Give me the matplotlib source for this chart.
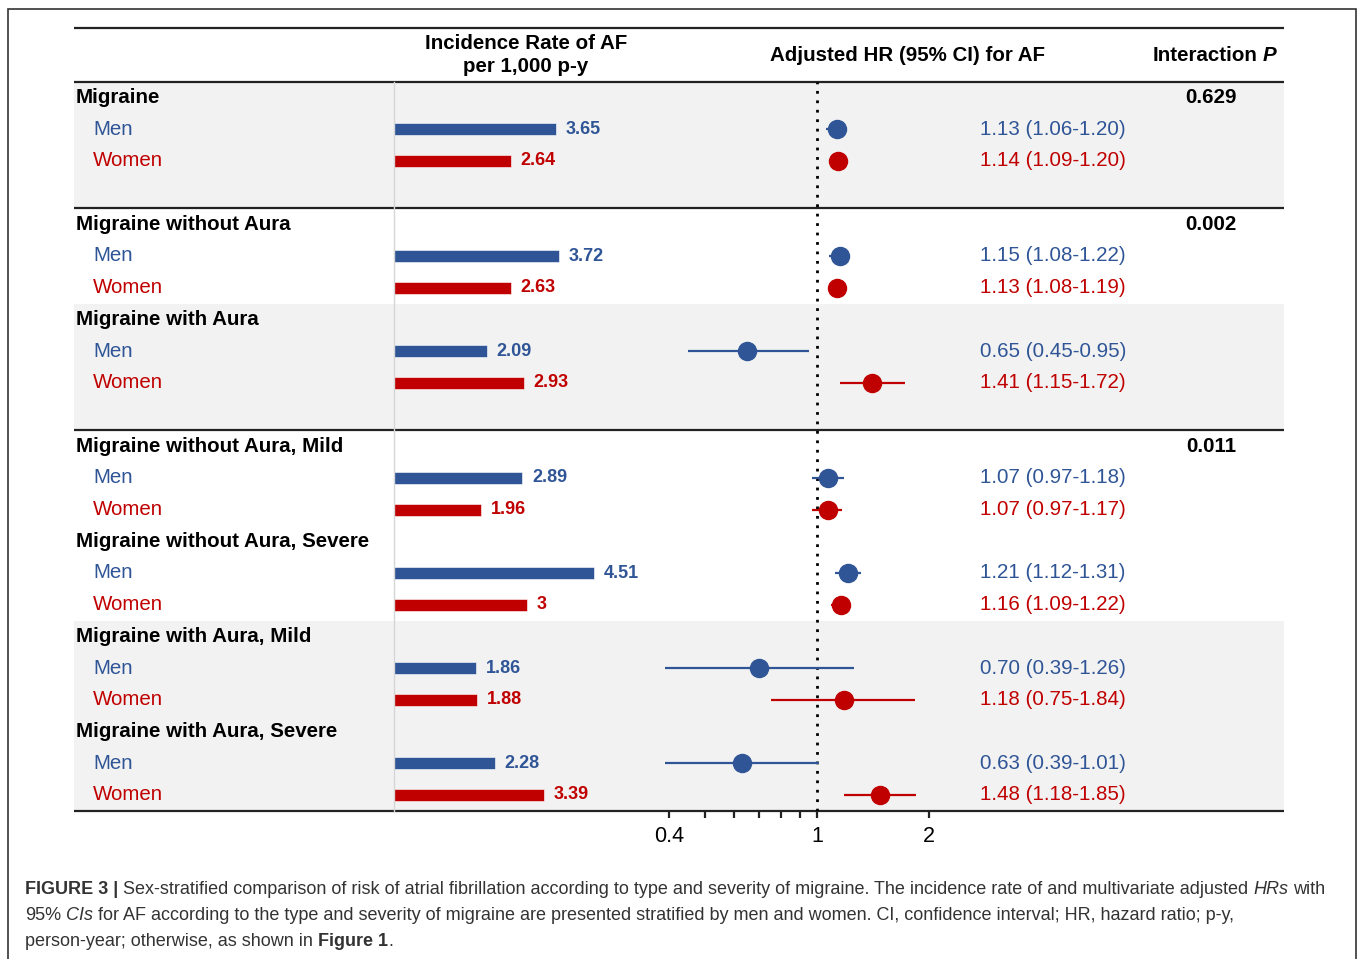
import numpy as np
import matplotlib.pyplot as plt
from matplotlib.patches import Rectangle
from matplotlib.ticker import FixedLocator, FixedFormatter, NullFormatter

plt.rcParams['font.family'] = ['Liberation Sans', 'DejaVu Sans']

W, H = 1358, 959
BLUE = '#2f5597'
RED = '#c00000'
DARK = '#222222'

# data
groups = ["Migraine", "Migraine without Aura", "Migraine with Aura",
          "Migraine without Aura, Mild", "Migraine without Aura, Severe",
          "Migraine with Aura, Mild", "Migraine with Aura, Severe"]
men_rate = [3.65, 3.72, 2.09, 2.89, 4.51, 1.86, 2.28]
women_rate = [2.64, 2.63, 2.93, 1.96, 3.00, 1.88, 3.39]
men_hr = [1.13, 1.15, 0.65, 1.07, 1.21, 0.70, 0.63]
men_lo = [1.06, 1.08, 0.45, 0.97, 1.12, 0.39, 0.39]
men_hi = [1.20, 1.22, 0.95, 1.18, 1.31, 1.26, 1.01]
women_hr = [1.14, 1.13, 1.41, 1.07, 1.16, 1.18, 1.48]
women_lo = [1.09, 1.08, 1.15, 0.97, 1.09, 0.75, 1.18]
women_hi = [1.20, 1.19, 1.72, 1.17, 1.22, 1.84, 1.85]
p_values = ["0.629", "0.002", "", "0.011", "", "", ""]
hr_ticks = [0.4, 1, 2]
hr_minor = [0.5, 0.6, 0.7, 0.8, 0.9]

# layout: row index of each group heading, shaded blocks, separators
head_rows = [0, 4, 7, 11, 14, 17, 20]
shaded = [(-0.5, 3.5), (6.5, 10.5), (16.5, 22.5)]
separators = [3.5, 10.5]
ROW0, PITCH = 97.5, 31.7   # pixel y of row 0, pixel per row

men_rows = [r + 1 for r in head_rows]
women_rows = [r + 2 for r in head_rows]

fig = plt.figure(figsize=(W / 100, H / 100), dpi=100)


def rows_px(r):
    return ROW0 + PITCH * r


def px_axes(x0, y0, x1, y1, **kw):
    return fig.add_axes([x0 / W, 1 - y1 / H, (x1 - x0) / W, (y1 - y0) / H], **kw)


# table axes: x in pixels, y in rows, covers whole figure
tab = px_axes(0, 0, W, H)
tab.set_xlim(0, W)
tab.set_ylim((H - ROW0) / PITCH, -ROW0 / PITCH)
tab.axis('off')

for a, b in shaded:
    tab.fill_between([74, 1284], a, b, color='#f2f2f2', lw=0, zorder=0)

top_rule = (28 - ROW0) / PITCH
for y in [top_rule, -0.5] + separators + [22.5]:
    tab.plot([74, 1284], [y, y], color=DARK, lw=1.6, solid_capstyle='butt', zorder=2)

# header
hfs = 14.8
tab.text(526, (44 - ROW0) / PITCH, "Incidence Rate of AF", fontsize=hfs, fontweight='bold',
         ha='center', va='center')
tab.text(526, (67 - ROW0) / PITCH, "per 1,000 p-y", fontsize=hfs, fontweight='bold',
         ha='center', va='center')
tab.text(907, (56 - ROW0) / PITCH, "Adjusted HR (95% CI) for AF", fontsize=hfs,
         fontweight='bold', ha='center', va='center')
tab.text(1276, (56 - ROW0) / PITCH, "P", fontsize=hfs, fontweight='bold', style='italic',
         ha='right', va='center')
tab.text(1258, (56 - ROW0) / PITCH, "Interaction", fontsize=hfs, fontweight='bold',
         ha='right', va='center')

# row labels
fs = 14.8
for i, g in enumerate(groups):
    tab.text(76, head_rows[i], g, fontsize=fs, fontweight='bold', ha='left', va='center')
    tab.text(93, men_rows[i], "Men", fontsize=fs, color=BLUE, ha='left', va='center')
    tab.text(93, women_rows[i], "Women", fontsize=fs, color=RED, ha='left', va='center')
    tab.text(980, men_rows[i], f"{men_hr[i]:.2f} ({men_lo[i]:.2f}-{men_hi[i]:.2f})",
             fontsize=fs, color=BLUE, ha='left', va='center')
    tab.text(980, women_rows[i], f"{women_hr[i]:.2f} ({women_lo[i]:.2f}-{women_hi[i]:.2f})",
             fontsize=fs, color=RED, ha='left', va='center')
    if p_values[i]:
        tab.text(1211, head_rows[i], p_values[i], fontsize=fs, fontweight='bold',
                 ha='center', va='center')

# bars
y_top, y_bot = rows_px(-0.5), rows_px(22.5)
bx = px_axes(394, y_top, 660, y_bot)
bx.patch.set_alpha(0)
bx.set_xlim(0, 266 / 44.35)
bx.set_ylim(22.5, -0.5)
for s in ['top', 'right', 'bottom']:
    bx.spines[s].set_visible(False)
bx.spines['left'].set_color('#d6d6d6')
bx.spines['left'].set_linewidth(1)
bx.set_xticks([])
bx.set_yticks([])
bx.barh(men_rows, men_rate, height=0.38, color=BLUE, edgecolor='white', linewidth=0.4)
bx.barh(women_rows, women_rate, height=0.38, color=RED, edgecolor='white', linewidth=0.4)
for rows, vals, c in [(men_rows, men_rate, BLUE), (women_rows, women_rate, RED)]:
    for r, v in zip(rows, vals):
        bx.annotate(f"{v:g}", (v, r), xytext=(7, 0), textcoords='offset points',
                    fontsize=13, fontweight='bold', color=c, ha='left', va='center')

# forest plot, log scale
fx = px_axes(647.4, y_top, 965, y_bot)
fx.patch.set_alpha(0)
fx.set_xscale('log')
fx.set_xlim(0.35, 2.5)
fx.set_ylim(22.5, -0.5)
for s in fx.spines.values():
    s.set_visible(False)
fx.set_yticks([])
fx.xaxis.set_major_locator(FixedLocator(hr_ticks))
fx.xaxis.set_major_formatter(FixedFormatter([f"{t:g}" for t in hr_ticks]))
fx.xaxis.set_minor_locator(FixedLocator(hr_minor))
fx.xaxis.set_minor_formatter(NullFormatter())
fx.tick_params(axis='x', which='both', direction='out', length=5, width=1.6, color=DARK,
               labelsize=15.5, pad=6)
fx.axvline(1, color='black', lw=2, linestyle=(0, (1, 2.4)), zorder=1)
fx.hlines(men_rows, men_lo, men_hi, color=BLUE, lw=1.6, zorder=2)
fx.hlines(women_rows, women_lo, women_hi, color=RED, lw=1.6, zorder=2)
fx.plot(men_hr, men_rows, 'o', color=BLUE, ms=13, zorder=3)
fx.plot(women_hr, women_rows, 'o', color=RED, ms=13, zorder=3)

# caption
renderer = fig.canvas.get_renderer()
cap_fs = 13
cap_col = '#333333'


def text_w(s, **kw):
    t = fig.text(0, 0, s, fontsize=cap_fs, **kw)
    w = t.get_window_extent(renderer=renderer).width
    t.remove()
    return w


space_w = text_w("x x") - text_w("xx")


def draw_runs(x, y, runs):
    for s, weight, style in runs:
        if s.startswith(" "):
            x += space_w
        s2 = s.strip()
        t = fig.text(x / W, 1 - y / H, s2, fontsize=cap_fs, fontweight=weight,
                     style=style, color=cap_col, ha='left', va='center')
        x += t.get_window_extent(renderer=renderer).width
        if s.endswith(" "):
            x += space_w


caption = [
    [("FIGURE 3 | ", 'bold', 'normal'),
     ("Sex-stratified comparison of risk of atrial fibrillation according to type and severity "
      "of migraine. The incidence rate of and multivariate adjusted ", 'normal', 'normal'),
     ("HRs", 'normal', 'italic'), (" with", 'normal', 'normal')],
    [("95% ", 'normal', 'normal'), ("CIs", 'normal', 'italic'),
     (" for AF according to the type and severity of migraine are presented stratified by men "
      "and women. CI, confidence interval; HR, hazard ratio; p-y,", 'normal', 'normal')],
    [("person-year; otherwise, as shown in ", 'normal', 'normal'),
     ("Figure 1", 'bold', 'normal'), (".", 'normal', 'normal')],
]
for k, line in enumerate(caption):
    draw_runs(25, 890 + 25.5 * k, line)

# outer frame
fig.patches.append(Rectangle((8 / W, -0.01), 1348 / W, 1.01 - 9 / H, transform=fig.transFigure,
                             fill=False, ec='#333333', lw=1.2))

fig.savefig("out.png", dpi=100)
